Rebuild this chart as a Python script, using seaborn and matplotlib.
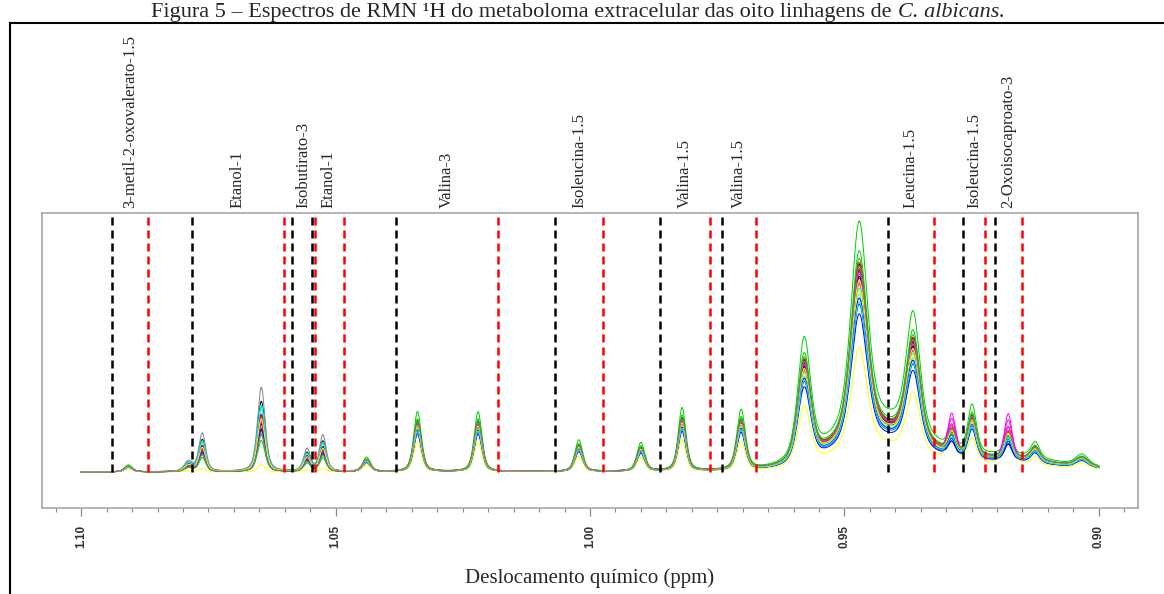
import numpy as np
import pandas as pd
import matplotlib
matplotlib.use("Agg")
import matplotlib.pyplot as plt
from matplotlib.patches import Rectangle
from matplotlib.ticker import MultipleLocator
import seaborn as sns

# picos (ppm, altura relativa, meia-largura, fracao lorentziana, grupo)
peak_ppm = [1.0907, 1.0789, 1.0762, 1.0646, 1.0556, 1.0525, 1.0439, 1.0339, 1.0220,
            1.0022, 0.9900, 0.9819, 0.9703, 0.9579, 0.9471, 0.9365, 0.9431, 0.9289,
            0.9249, 0.9178, 0.9125, 0.9175, 0.9033]
peak_height = [0.022, 0.025, 0.095, 0.210, 0.055, 0.090, 0.045, 0.190, 0.190,
               0.100, 0.090, 0.200, 0.190, 0.380, 0.655, 0.380, 0.140, 0.080,
               0.155, 0.090, 0.050, 0.050, 0.035]
peak_hwhm = [0.0009, 0.0010, 0.0008, 0.0009, 0.0008, 0.0008, 0.0009, 0.0009, 0.0009,
             0.0009, 0.0009, 0.0009, 0.0010, 0.0015, 0.0019, 0.0016, 0.0104, 0.0009,
             0.0010, 0.0009, 0.0010, 0.0118, 0.0015]
peak_eta = [0.5, 0.5, 0.5, 0.5, 0.5, 0.5, 0.5, 0.5, 0.5,
            0.5, 0.5, 0.5, 0.5, 0.5, 0.5, 0.5, 0.0, 0.5,
            0.5, 0.5, 0.5, 1.0, 0.5]
# 0 = geral, 1 = etanol, 2 = cetoacidos
peak_group = [0, 1, 1, 1, 1, 1, 0, 0, 0,
              0, 0, 0, 0, 0, 0, 0, 0, 2,
              0, 2, 0, 0, 0]

# fatores de cada espectro (8 linhagens x 3 replicatas)
scale = [1.02, 0.97, 1.27, 0.80, 0.90, 0.95, 0.63, 1.00,
         1.05, 1.03, 1.08, 0.85, 0.93, 0.98, 0.92, 0.96,
         0.99, 1.06, 1.12, 0.88, 0.86, 1.01, 0.97, 1.04]
etoh = [1.35, 0.85, 1.25, 0.95, 1.20, 0.90, 0.14, 1.62,
        0.80, 1.05, 0.70, 1.10, 0.75, 1.00, 0.88, 0.78,
        0.92, 1.10, 0.60, 0.82, 1.28, 0.95, 1.02, 0.72]
keto = [1.20, 0.90, 1.05, 0.75, 0.85, 2.00, 1.60, 1.35,
        0.95, 1.10, 0.80, 0.70, 1.00, 1.70, 1.30, 1.00,
        0.85, 1.15, 0.90, 0.80, 0.95, 1.40, 1.10, 1.20]
r_colors = ["black", "red", "#00CD00", "blue", "cyan", "magenta", "yellow", "gray"]

region_start = [1.0940, 1.0783, 1.0585, 1.0546, 1.0381, 1.0069, 0.9862, 0.9741, 0.9415, 0.9267, 0.9205]
region_end = [1.0869, 1.0602, 1.0541, 1.0483, 1.0180, 0.9974, 0.9764, 0.9673, 0.9324, 0.9224, 0.9150]
region_names = ["3-metil-2-oxovalerato-1.5", "Etanol-1", "Isobutirato-3", "Etanol-1", "Valina-3",
                "Isoleucina-1.5", "Valina-1.5", "Valina-1.5", "Leucina-1.5", "Isoleucina-1.5",
                "2-Oxoisocaproato-3"]

tick_pos = [1.10, 1.05, 1.00, 0.95, 0.90]
tick_labels = ["1.10", "1.05", "1.00", "0.95", "0.90"]

ppm = np.linspace(1.10, 0.90, 2401)


def pvoigt(x, c, h, w, eta):
    d = ((x - c) / w) ** 2
    return h * (eta / (1 + d) + (1 - eta) * np.exp(-np.log(2) * d))


rows = []
for i in range(len(scale)):
    fac = {0: scale[i], 1: etoh[i], 2: keto[i]}
    y = np.zeros_like(ppm)
    for c, h, w, e, g in zip(peak_ppm, peak_height, peak_hwhm, peak_eta, peak_group):
        y += pvoigt(ppm, c, h * fac[g], w, e)
    name = "L%d-%d" % (i % 8 + 1, i // 8 + 1)
    rows.append(pd.DataFrame({"ppm": ppm, "intensidade": y, "espectro": name}))
df = pd.concat(rows, ignore_index=True)
order = list(dict.fromkeys(df["espectro"]))
palette = [r_colors[i % 8] for i in range(len(order))]

sns.set_theme(style="white")
plt.rcParams["font.family"] = ["Liberation Serif", "DejaVu Serif"]

fig = plt.figure(figsize=(11.64, 5.94), dpi=100)
ax = fig.add_axes([42 / 1164, 86 / 594, 1096 / 1164, 295 / 594])

sns.lineplot(data=df, x="ppm", y="intensidade", hue="espectro", hue_order=order,
             palette=palette, estimator=None, sort=False, legend=False,
             linewidth=0.7, ax=ax)

ytop = 1.044
ax.set_xlim(1.1077, 0.8923)
ax.set_ylim(-0.145, ytop)

dash = (0, (3.2, 2.0))
ax.vlines(region_start, 0, ytop, colors="black", linewidth=1.8, linestyles=[dash], zorder=5)
ax.vlines(region_end, 0, ytop, colors="red", linewidth=1.8, linestyles=[dash], zorder=5)
for a, b, name in zip(region_start, region_end, region_names):
    ax.text((a + b) / 2, 1.017, name, transform=ax.get_xaxis_transform(), rotation=90,
            ha="center", va="bottom", fontsize=12, fontfamily="Liberation Serif")

for s in ax.spines.values():
    s.set_color("#a0a0a0")
    s.set_linewidth(1.1)

ax.set_yticks([])
ax.set_ylabel("")
ax.set_xticks(tick_pos)
ax.set_xticklabels(tick_labels, fontfamily="Liberation Sans", fontweight="bold")
ax.xaxis.set_minor_locator(MultipleLocator(0.005))
ax.tick_params(axis="x", which="major", bottom=True, length=5.8, width=0.9, color="#888888",
               pad=6.5, labelsize=8.5, labelrotation=90, labelcolor="#333333")
ax.tick_params(axis="x", which="minor", bottom=True, length=3, width=0.8, color="#888888")

ax.set_xlabel("Deslocamento químico (ppm)", fontsize=15, fontfamily="Liberation Serif")
ax.xaxis.label.set_va("center")
ax.xaxis.set_label_coords(0.5, -0.237)

# moldura externa da figura
fig.add_artist(Rectangle((10 / 1164, -0.1), 1.2, 1 - 23 / 594 + 0.1, transform=fig.transFigure,
                         fill=False, edgecolor="black", linewidth=1.5))

# legenda da figura, no topo
yb = 1 - 17 / 594
t1 = fig.text(0, yb, "Figura 5 – Espectros de RMN ¹H do metaboloma extracelular das oito linhagens de ",
              fontsize=16, va="baseline", fontfamily="Liberation Serif")
t2 = fig.text(0, yb, "C. albicans.", fontsize=16, va="baseline", fontstyle="italic",
              fontfamily="Liberation Serif")
fig.canvas.draw()
r = fig.canvas.get_renderer()
w1 = t1.get_window_extent(r).width
w2 = t2.get_window_extent(r).width
x0 = 578 - (w1 + w2) / 2
t1.set_x(x0 / 1164)
t2.set_x((x0 + w1) / 1164)

fig.savefig("out.png", dpi=100)
